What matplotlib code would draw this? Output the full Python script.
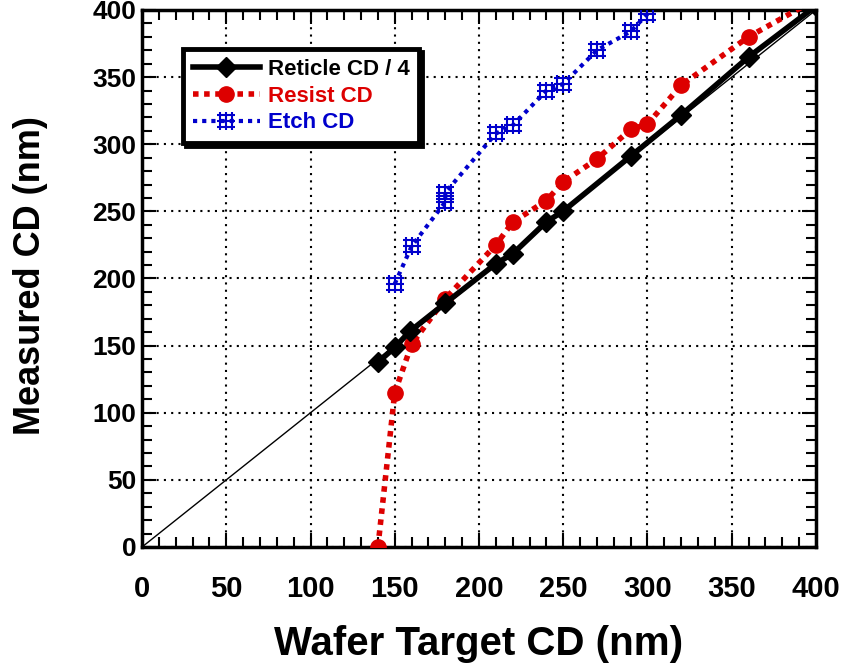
import matplotlib
matplotlib.use("Agg")
import matplotlib.pyplot as plt
from matplotlib.path import Path
from matplotlib.ticker import MultipleLocator

plt.rcParams['font.family'] = ['Liberation Sans', 'DejaVu Sans']
plt.rcParams['font.weight'] = 'bold'

# Data
reticle_x = [140, 150, 159, 180, 210, 220, 240, 250, 290, 320, 360, 400]
reticle_y = [137.5, 148.7, 160.7, 181.6, 211, 218.4, 242.2, 250.2, 291.1, 321.8, 365, 403]

resist_x = [140, 150, 160, 180, 210, 220, 240, 250, 270, 290, 300, 320, 360, 400]
resist_y = [0, 115, 151, 185, 225, 242, 258, 272, 289, 311, 315, 344, 380, 408]

etch_x = [150, 160, 180, 180, 210, 220, 240, 250, 270, 290, 300]
etch_y = [196, 224, 257, 264, 308, 314, 340, 345, 370, 384, 397]

ref_x = [0, 400]
ref_y = [0, 400]

# Custom grid marker
verts, codes = [], []
for v in (-0.7, 0.0, 0.7):
    verts += [(v, -1.1), (v, 1.1)]
    codes += [Path.MOVETO, Path.LINETO]
    verts += [(-1.1, v), (1.1, v)]
    codes += [Path.MOVETO, Path.LINETO]
grid_marker = Path(verts, codes)

fig = plt.figure(figsize=(8.49, 6.66), dpi=100)
ax = fig.add_axes([0.1673, 0.1787, 0.7938, 0.8063])

ax.plot(ref_x, ref_y, color='black', lw=1.0, zorder=2)
ax.plot(reticle_x, reticle_y, color='black', lw=4, marker='D', ms=10,
        label='Reticle CD / 4', zorder=4)
ax.plot(resist_x, resist_y, color='#dd0000', lw=4, ls=(0, (1, 1)), marker='o', ms=11,
        label='Resist CD', zorder=3)
ax.plot(etch_x, etch_y, color='#0000cc', lw=3, ls=(0, (1, 1.2)), marker=grid_marker, ms=13,
        mew=1.5, mfc='none', label='Etch CD', zorder=3)

ax.set_xlim(0, 400)
ax.set_ylim(0, 400)
ax.xaxis.set_major_locator(MultipleLocator(50))
ax.yaxis.set_major_locator(MultipleLocator(50))
ax.xaxis.set_minor_locator(MultipleLocator(10))
ax.yaxis.set_minor_locator(MultipleLocator(10))
ax.tick_params(which='both', direction='in', top=True, right=True, width=1.5)
ax.tick_params(which='major', length=10)
ax.tick_params(which='minor', length=7)
ax.tick_params(axis='x', which='major', labelsize=21, pad=20)
ax.tick_params(axis='y', which='major', labelsize=19, pad=4)
for lab in ax.get_xticklabels() + ax.get_yticklabels():
    lab.set_fontweight('bold')
ax.grid(True, which='major', color='black', lw=1.5, ls=(0, (1, 2.5)))
for s in ax.spines.values():
    s.set_linewidth(2.5)

ax.set_xlabel('Wafer Target CD (nm)', fontsize=29, fontweight='bold')
ax.set_ylabel('Measured CD (nm)', fontsize=26, fontweight='bold')
ax.xaxis.set_label_coords(0.5, -0.145)
ax.yaxis.set_label_coords(-0.14, 0.506)

leg = ax.legend(loc='upper left', bbox_to_anchor=(0.061, 0.927), fontsize=16,
                frameon=True, fancybox=False, edgecolor='black', framealpha=1,
                shadow={'color': 'black', 'alpha': 1}, handlelength=3.0,
                borderpad=0.45, labelspacing=0.25, handletextpad=0.35,
                borderaxespad=0)
leg.get_frame().set_linewidth(3.5)
for txt, c in zip(leg.get_texts(), ['black', '#dd0000', '#0000cc']):
    txt.set_color(c)
    txt.set_fontweight('bold')

fig.savefig('out.png', dpi=100)
